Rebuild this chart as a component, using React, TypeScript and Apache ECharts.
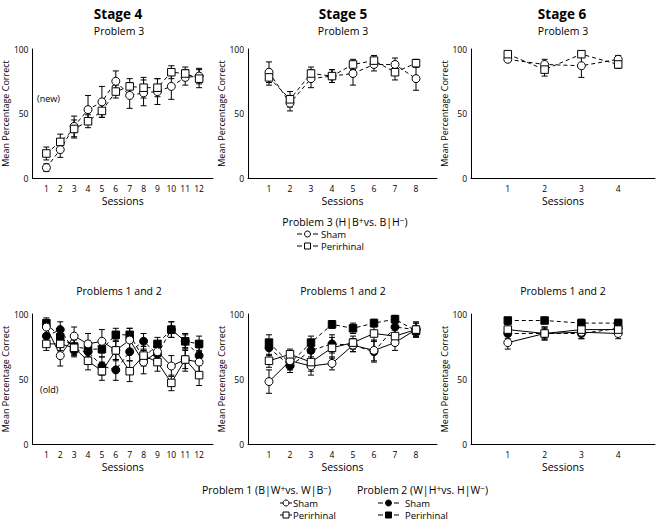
import React, { useEffect, useRef } from "react";
import * as echarts from "echarts";

// Sessions
const sessions4 = [1, 2, 3, 4, 5, 6, 7, 8, 9, 10, 11, 12];
const sessions5 = [1, 2, 3, 4, 5, 6, 7, 8];
const sessions6 = [1, 2, 3, 4];

const yTicks = [0, 50, 100];

// Problem 3 (top row)
const s4p3Sham = [8, 22, 40, 53, 59, 75, 64, 66, 67, 71, 78, 79];
const s4p3ShamErr = [3, 6, 8, 11, 12, 8, 10, 10, 10, 10, 6, 6];
const s4p3Peri = [19, 28, 38, 44, 52, 67, 71, 70, 70, 82, 81, 77];
const s4p3PeriErr = [5, 6, 7, 5, 5, 5, 6, 8, 7, 5, 5, 7];

const s5p3Sham = [82, 58, 77, 79, 81, 88, 88, 77];
const s5p3ShamErr = [8, 6, 7, 5, 9, 5, 5, 9];
const s5p3Peri = [78, 61, 81, 79, 88, 91, 82, 89];
const s5p3PeriErr = [6, 6, 5, 5, 4, 4, 6, 3];

const s6p3Sham = [92, 88, 87, 92];
const s6p3ShamErr = [2, 4, 9, 3];
const s6p3Peri = [96, 84, 96, 88];
const s6p3PeriErr = [2, 5, 2, 3];

// Problems 1 and 2 (bottom row)
const s4p1Sham = [90, 68, 83, 77, 79, 72, 80, 63, 71, 60, 65, 63];
const s4p1ShamErr = [5, 8, 7, 8, 9, 8, 9, 9, 8, 8, 9, 9];
const s4p1Peri = [77, 77, 74, 64, 56, 72, 56, 68, 63, 47, 65, 53];
const s4p1PeriErr = [5, 5, 6, 7, 7, 7, 8, 7, 7, 6, 7, 8];
const s4p2Sham = [83, 88, 72, 71, 60, 57, 71, 79, 69, 88, 79, 68];
const s4p2ShamErr = [5, 6, 5, 6, 7, 8, 7, 6, 6, 6, 6, 6];
const s4p2Peri = [93, 82, 75, 73, 73, 84, 84, 66, 77, 88, 79, 77];
const s4p2PeriErr = [4, 5, 6, 6, 6, 5, 5, 6, 5, 6, 5, 6];

const s5p1Sham = [48, 64, 60, 62, 76, 72, 78, 88];
const s5p1ShamErr = [9, 5, 7, 5, 5, 8, 6, 6];
const s5p1Peri = [64, 69, 63, 74, 78, 85, 83, 88];
const s5p1PeriErr = [5, 4, 7, 8, 5, 6, 6, 5];
const s5p2Sham = [74, 60, 72, 77, 76, 71, 90, 88];
const s5p2ShamErr = [6, 5, 7, 7, 5, 8, 5, 5];
const s5p2Peri = [78, 62, 78, 92, 89, 93, 96, 87];
const s5p2PeriErr = [6, 5, 5, 3, 4, 3, 3, 4];

const s6p1Sham = [78, 85, 86, 85];
const s6p1ShamErr = [5, 5, 5, 4];
const s6p1Peri = [88, 85, 88, 88];
const s6p1PeriErr = [4, 5, 4, 4];
const s6p2Sham = [85, 85, 85, 89];
const s6p2ShamErr = [4, 4, 4, 4];
const s6p2Peri = [95, 95, 93, 93];
const s6p2PeriErr = [2, 2, 3, 3];

const FONT = "Open Sans";
const DASH = [4, 3];

type Line = { vals: number[]; errs: number[]; symbol: string; filled: boolean; dashed: boolean };

const panels: { sessions: number[]; lines: Line[] }[] = [
  {
    sessions: sessions4,
    lines: [
      { vals: s4p3Sham, errs: s4p3ShamErr, symbol: "circle", filled: false, dashed: true },
      { vals: s4p3Peri, errs: s4p3PeriErr, symbol: "rect", filled: false, dashed: true },
    ],
  },
  {
    sessions: sessions5,
    lines: [
      { vals: s5p3Sham, errs: s5p3ShamErr, symbol: "circle", filled: false, dashed: true },
      { vals: s5p3Peri, errs: s5p3PeriErr, symbol: "rect", filled: false, dashed: true },
    ],
  },
  {
    sessions: sessions6,
    lines: [
      { vals: s6p3Sham, errs: s6p3ShamErr, symbol: "circle", filled: false, dashed: true },
      { vals: s6p3Peri, errs: s6p3PeriErr, symbol: "rect", filled: false, dashed: true },
    ],
  },
  {
    sessions: sessions4,
    lines: [
      { vals: s4p2Sham, errs: s4p2ShamErr, symbol: "circle", filled: true, dashed: true },
      { vals: s4p2Peri, errs: s4p2PeriErr, symbol: "rect", filled: true, dashed: true },
      { vals: s4p1Sham, errs: s4p1ShamErr, symbol: "circle", filled: false, dashed: false },
      { vals: s4p1Peri, errs: s4p1PeriErr, symbol: "rect", filled: false, dashed: false },
    ],
  },
  {
    sessions: sessions5,
    lines: [
      { vals: s5p2Sham, errs: s5p2ShamErr, symbol: "circle", filled: true, dashed: true },
      { vals: s5p2Peri, errs: s5p2PeriErr, symbol: "rect", filled: true, dashed: true },
      { vals: s5p1Sham, errs: s5p1ShamErr, symbol: "circle", filled: false, dashed: false },
      { vals: s5p1Peri, errs: s5p1PeriErr, symbol: "rect", filled: false, dashed: false },
    ],
  },
  {
    sessions: sessions6,
    lines: [
      { vals: s6p2Sham, errs: s6p2ShamErr, symbol: "circle", filled: true, dashed: true },
      { vals: s6p2Peri, errs: s6p2PeriErr, symbol: "rect", filled: true, dashed: true },
      { vals: s6p1Sham, errs: s6p1ShamErr, symbol: "circle", filled: false, dashed: false },
      { vals: s6p1Peri, errs: s6p1PeriErr, symbol: "rect", filled: false, dashed: false },
    ],
  },
];

const gridBoxes = [
  { left: 25, top: 49, width: 188, height: 129 },
  { left: 248, top: 49, width: 189, height: 129 },
  { left: 471, top: 49, width: 184, height: 129 },
  { left: 25, top: 314, width: 188, height: 130 },
  { left: 248, top: 314, width: 189, height: 130 },
  { left: 471, top: 314, width: 184, height: 130 },
];

function txt(text: string, x: number, y: number, size: number, align = "center", weight = "normal") {
  const style: any = { text, fontSize: size, fontFamily: FONT, fontWeight: weight, fill: "#000", align, verticalAlign: "middle" };
  return { type: "text", x, y, style };
}

function supTxt(parts: string[], x: number, y: number, align: string) {
  // parts alternate: normal, superscript, normal, superscript, normal
  const text = parts.map((p, i) => (i % 2 === 0 ? `{n|${p}}` : `{s|${p}}`)).join("");
  return {
    type: "text",
    x,
    y,
    style: {
      text,
      align,
      verticalAlign: "middle",
      fontFamily: FONT,
      fontSize: 10.5,
      fill: "#000",
      rich: {
        n: { fontSize: 10.5, fontFamily: FONT, fill: "#000", lineHeight: 13 },
        s: { fontSize: 8.5, fontFamily: FONT, fill: "#000", lineHeight: 8, verticalAlign: "top" },
      },
    },
  };
}

function legendSym(x: number, y: number, symbol: string, filled: boolean, dashed: boolean) {
  const els: any[] = [];
  const st = { stroke: "#000", lineWidth: 1 };
  const fill = filled ? "#000" : "#fff";
  if (dashed) {
    els.push({ type: "line", shape: { x1: x, y1: y, x2: x + 5, y2: y }, style: st });
    els.push({ type: "line", shape: { x1: x + 16, y1: y, x2: x + 21, y2: y }, style: st });
    if (symbol === "circle") els.push({ type: "circle", shape: { cx: x + 10.5, cy: y, r: 3 }, style: { fill, stroke: "#000", lineWidth: 1 } });
    else els.push({ type: "rect", shape: { x: x + 7.5, y: y - 3, width: 6, height: 6 }, style: { fill, stroke: "#000", lineWidth: 1 } });
  } else {
    els.push({ type: "line", shape: { x1: x, y1: y, x2: x + 12, y2: y }, style: st });
    if (symbol === "circle") els.push({ type: "circle", shape: { cx: x + 6, cy: y, r: 3 }, style: { fill, stroke: "#000", lineWidth: 1 } });
    else els.push({ type: "rect", shape: { x: x + 3, y: y - 3, width: 6, height: 6 }, style: { fill, stroke: "#000", lineWidth: 1 } });
  }
  return els;
}

export default function App() {
  const ref = useRef<HTMLDivElement>(null);
  useEffect(() => {
    if (!ref.current) return;
    const chart = echarts.init(ref.current, null, { renderer: "svg" });

    const grid = gridBoxes.map((g) => ({ ...g, containLabel: false }));
    const xAxis = panels.map((p, i) => ({
      type: "value",
      gridIndex: i,
      min: 0,
      max: p.sessions.length + 1,
      interval: 1,
      axisLine: { show: true, lineStyle: { color: "#000", width: 1 } },
      axisTick: { show: false },
      splitLine: { show: false },
      axisLabel: {
        fontSize: 8.5,
        fontFamily: FONT,
        color: "#000",
        margin: 6,
        formatter: (v: number) => (p.sessions.includes(v) ? String(v) : ""),
      },
      name: "Sessions",
      nameLocation: "middle",
      nameGap: 17,
      nameTextStyle: { fontSize: 10.5, fontFamily: FONT, color: "#000" },
    }));
    const yAxis = panels.map((p, i) => ({
      type: "value",
      gridIndex: i,
      min: yTicks[0],
      max: yTicks[yTicks.length - 1],
      interval: yTicks[1] - yTicks[0],
      axisLine: { show: true, lineStyle: { color: "#000", width: 1 } },
      axisTick: { show: false },
      splitLine: { show: false },
      axisLabel: { fontSize: 8.5, fontFamily: FONT, color: "#000", margin: 4 },
      name: "Mean Percentage Correct",
      nameLocation: "middle",
      nameGap: 16,
      nameTextStyle: { fontSize: 9, fontFamily: FONT, color: "#000" },
    }));

    const series: any[] = [];
    panels.forEach((p, gi) => {
      p.lines.forEach((ln) => {
        series.push({
          type: "custom",
          xAxisIndex: gi,
          yAxisIndex: gi,
          z: 2,
          silent: true,
          data: p.sessions.map((s, k) => [s, ln.vals[k], ln.errs[k]]),
          renderItem: (params: any, api: any) => {
            const x = api.value(0);
            const y = api.value(1);
            const e = api.value(2);
            const top = api.coord([x, y + e]);
            const bot = api.coord([x, y - e]);
            const w = 3;
            const style = { stroke: "#000", lineWidth: 1 };
            return {
              type: "group",
              children: [
                { type: "line", shape: { x1: top[0], y1: top[1], x2: bot[0], y2: bot[1] }, style },
                { type: "line", shape: { x1: top[0] - w, y1: top[1], x2: top[0] + w, y2: top[1] }, style },
                { type: "line", shape: { x1: bot[0] - w, y1: bot[1], x2: bot[0] + w, y2: bot[1] }, style },
              ],
            };
          },
        });
        series.push({
          type: "line",
          xAxisIndex: gi,
          yAxisIndex: gi,
          z: 3,
          data: p.sessions.map((s, k) => [s, ln.vals[k]]),
          symbol: ln.symbol,
          symbolSize: ln.symbol === "rect" ? 7.5 : 8,
          showAllSymbol: true,
          itemStyle: { color: ln.filled ? "#000" : "#fff", borderColor: "#000", borderWidth: 1 },
          lineStyle: { color: "#000", width: 1, type: ln.dashed ? DASH : "solid" },
          emphasis: { disabled: true },
        });
      });
    });

    const graphic: any[] = [
      txt("Stage 4", 118, 14, 13.5, "center", "bold"),
      txt("Stage 5", 343, 14, 13.5, "center", "bold"),
      txt("Stage 6", 562, 14, 13.5, "center", "bold"),
      txt("Problem 3", 119, 31, 10.5),
      txt("Problem 3", 343, 31, 10.5),
      txt("Problem 3", 563, 31, 10.5),
      txt("Problems 1 and 2", 119, 291, 10.5),
      txt("Problems 1 and 2", 343, 291, 10.5),
      txt("Problems 1 and 2", 563, 291, 10.5),
      txt("(new)", 37, 98, 9, "left"),
      txt("(old)", 40, 389, 9, "left"),
      supTxt(["Problem 3 (H|B", "+", "vs. B|H", "\u2212", ")"], 345, 222, "center"),
      ...legendSym(297, 234, "circle", false, true),
      txt("Sham", 321, 234, 9.5, "left"),
      ...legendSym(297, 246, "rect", false, true),
      txt("Perirhinal", 321, 246, 9.5, "left"),
      supTxt(["Problem 1 (B|W", "+", "vs. W|B", "\u2212", ")"], 202, 490, "left"),
      supTxt(["Problem 2 (W|H", "+", "vs. H|W", "\u2212", ")"], 357, 490, "left"),
      ...legendSym(280, 503, "circle", false, false),
      txt("Sham", 293, 503, 9.5, "left"),
      ...legendSym(280, 515, "rect", false, false),
      txt("Perirhinal", 293, 515, 9.5, "left"),
      ...legendSym(378, 503, "circle", true, true),
      txt("Sham", 405, 503, 9.5, "left"),
      ...legendSym(378, 515, "rect", true, true),
      txt("Perirhinal", 405, 515, 9.5, "left"),
    ];

    chart.setOption({
      animation: false,
      backgroundColor: "#fff",
      textStyle: { fontFamily: FONT },
      grid,
      xAxis,
      yAxis,
      series,
      graphic,
    });
    return () => chart.dispose();
  }, []);
  return <div ref={ref} style={{ position: "absolute", left: 0, top: 0, width: 659, height: 522 }} />;
}
